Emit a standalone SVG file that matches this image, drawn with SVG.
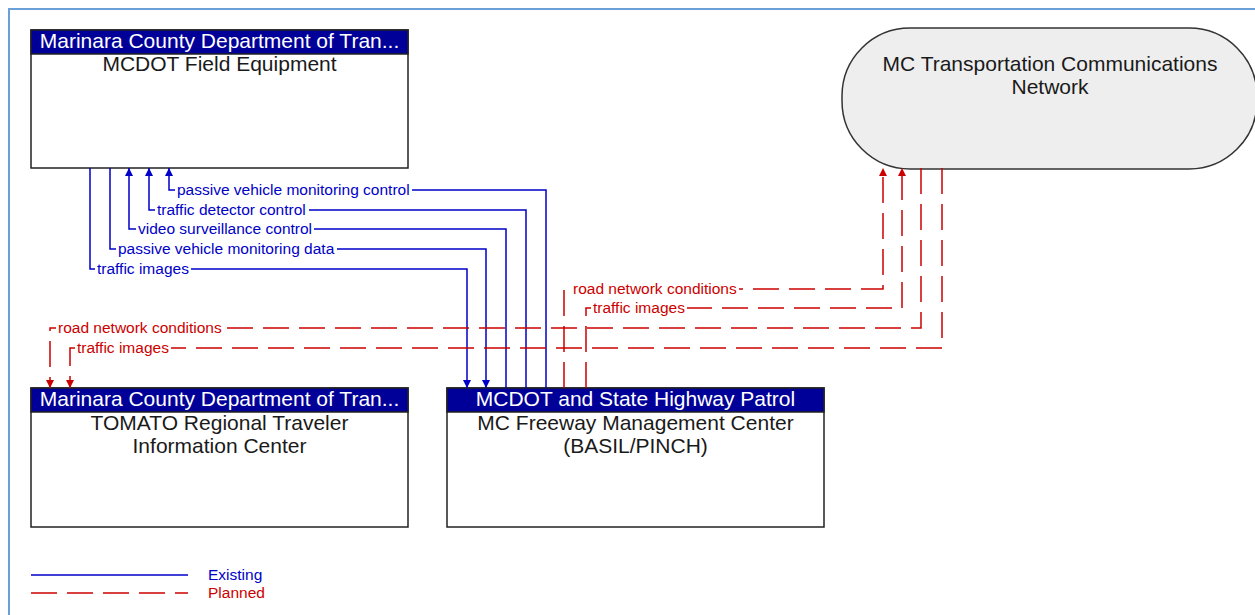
<svg xmlns="http://www.w3.org/2000/svg" width="1255" height="615" viewBox="0 0 1255 615">
<style>
.box{fill:#fff;stroke:#222;stroke-width:1.5}
.hdr{fill:#000099;stroke:#222;stroke-width:1.5}
.ht{font-family:"Liberation Sans",Arial,sans-serif;font-size:21px;fill:#fff;text-anchor:middle}
.nt{font-family:"Liberation Sans",Arial,sans-serif;font-size:21px;fill:#1a1a1a;text-anchor:middle}
.ex{fill:none;stroke:#0000c8;stroke-width:1.5}
.pl{fill:none;stroke:#cc0000;stroke-width:1.5;stroke-dasharray:26 10}
.lb{font-family:"Liberation Sans",Arial,sans-serif;font-size:15.5px;fill:#0000c8}
.lr{font-family:"Liberation Sans",Arial,sans-serif;font-size:15.5px;fill:#cc0000}
.bg{fill:#fff}
</style>
<defs>
<marker id="ab" markerUnits="userSpaceOnUse" markerWidth="9" markerHeight="9" refX="8" refY="4" orient="auto" viewBox="0 0 9 9"><path d="M0,0 L8,4 L0,8 z" fill="#0000c8"/></marker>
<marker id="ar" markerUnits="userSpaceOnUse" markerWidth="9" markerHeight="9" refX="8" refY="4" orient="auto" viewBox="0 0 9 9"><path d="M0,0 L8,4 L0,8 z" fill="#cc0000"/></marker>
</defs>
<rect width="1255" height="615" fill="#fff"/>
<path d="M9,615 L9,9 L1255,9" fill="none" stroke="#6a9fd8" stroke-width="2"/>

<g id="field-equipment">
<rect class="box" x="31" y="30" width="377" height="138"/>
<rect class="hdr" x="31" y="30" width="377" height="24"/>
<text class="ht" x="219.5" y="48">Marinara County Department of Tran...</text>
<text class="nt" x="219.5" y="71">MCDOT Field Equipment</text>
</g>

<g id="tomato">
<rect class="box" x="31" y="388" width="377" height="139"/>
<rect class="hdr" x="31" y="388" width="377" height="24"/>
<text class="ht" x="219.5" y="406">Marinara County Department of Tran...</text>
<text class="nt" x="219.5" y="430">TOMATO Regional Traveler</text>
<text class="nt" x="219.5" y="453">Information Center</text>
</g>

<g id="freeway-center">
<rect class="box" x="447" y="388" width="377" height="139"/>
<rect class="hdr" x="447" y="388" width="377" height="24"/>
<text class="ht" x="635.5" y="406">MCDOT and State Highway Patrol</text>
<text class="nt" x="635.5" y="430">MC Freeway Management Center</text>
<text class="nt" x="635.5" y="453">(BASIL/PINCH)</text>
</g>

<g id="comm-network">
<rect x="842" y="28" width="415" height="141" rx="68" ry="68" fill="#eeeeee" stroke="#333" stroke-width="1.5"/>
<text class="nt" x="1050" y="71">MC Transportation Communications</text>
<text class="nt" x="1050" y="94">Network</text>
</g>

<g id="connectors">
<!-- existing -->
<path class="ex" d="M90,168 L90,269 L467,269 L467,388" marker-end="url(#ab)"/>
<path class="ex" d="M110,168 L110,249 L486,249 L486,388" marker-end="url(#ab)"/>
<path class="ex" d="M506,388 L506,229 L129,229 L129,168" marker-end="url(#ab)"/>
<path class="ex" d="M526,388 L526,210 L149,210 L149,168" marker-end="url(#ab)"/>
<path class="ex" d="M546,388 L546,190 L169,190 L169,168" marker-end="url(#ab)"/>
<!-- planned -->
<path class="pl" d="M564,388 L564,289 L883,289 L883,168" marker-end="url(#ar)"/>
<path class="pl" d="M586,388 L586,308 L902,308 L902,168" marker-end="url(#ar)"/>
<path class="pl" d="M921,168 L921,328 L50,328 L50,388" marker-end="url(#ar)"/>
<path class="pl" d="M942,168 L942,348 L70,348 L70,388" marker-end="url(#ar)"/>

<rect class="bg" x="175" y="183" width="237" height="14"/>
<text class="lb" x="177" y="195">passive vehicle monitoring control</text>
<rect class="bg" x="155" y="203" width="154" height="14"/>
<text class="lb" x="157" y="215">traffic detector control</text>
<rect class="bg" x="136" y="222" width="178" height="14"/>
<text class="lb" x="138" y="234">video surveillance control</text>
<rect class="bg" x="116" y="242" width="221" height="14"/>
<text class="lb" x="118" y="254">passive vehicle monitoring data</text>
<rect class="bg" x="95" y="262" width="96" height="14"/>
<text class="lb" x="97" y="274">traffic images</text>

<rect class="bg" x="571" y="282" width="168" height="14"/>
<text class="lr" x="573" y="294">road network conditions</text>
<rect class="bg" x="591" y="301" width="96" height="14"/>
<text class="lr" x="593" y="313">traffic images</text>
<rect class="bg" x="56" y="321" width="168" height="14"/>
<text class="lr" x="58" y="333">road network conditions</text>
<rect class="bg" x="75" y="341" width="96" height="14"/>
<text class="lr" x="77" y="353">traffic images</text>
</g>

<g id="legend">
<line class="ex" x1="31" y1="575" x2="188" y2="575"/>
<line class="pl" x1="31" y1="593" x2="188" y2="593"/>
<text class="lb" x="208" y="580">Existing</text>
<text class="lr" x="208" y="598">Planned</text>
</g>
</svg>
